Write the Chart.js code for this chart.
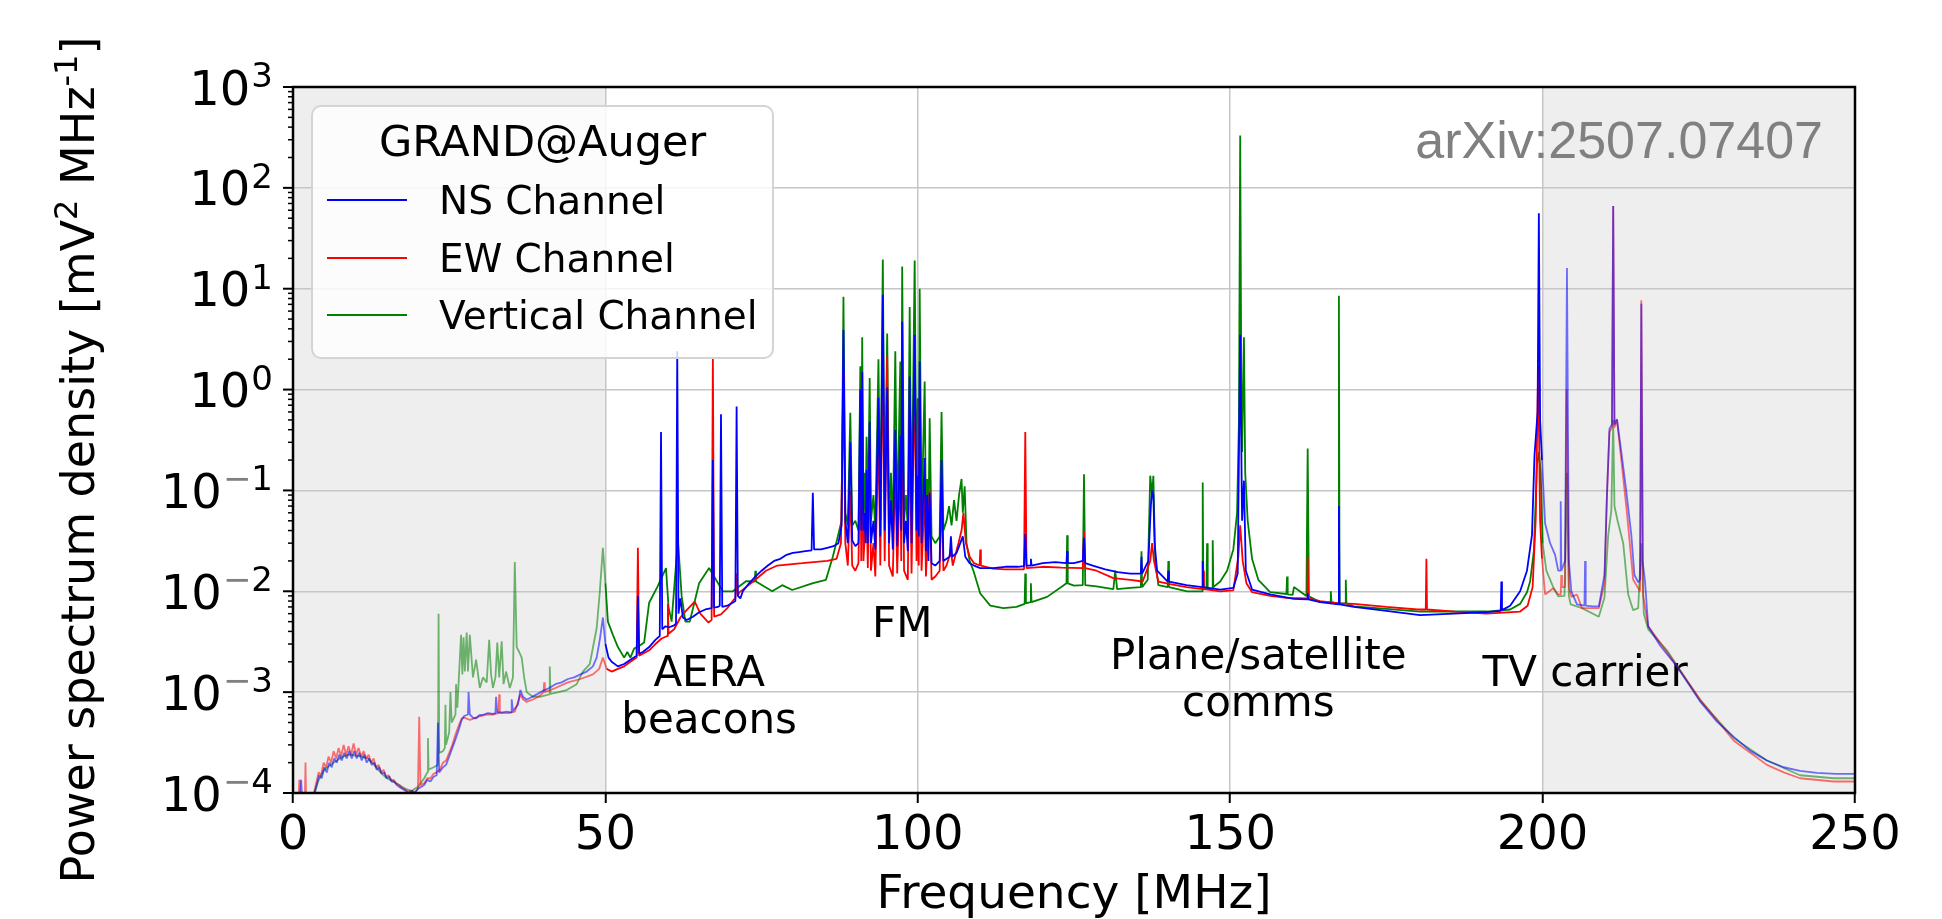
<!DOCTYPE html>
<html>
<head>
<meta charset="utf-8">
<script src="https://cdn.jsdelivr.net/npm/chart.js@4.4.1/dist/chart.umd.min.js"></script>
<style>
  html, body { margin:0; padding:0; background:#fff; }
  canvas { display:block; }
</style>
</head>
<body>
<canvas id="psd" width="1942" height="919"></canvas>
<script>
// ===== Data : [frequency MHz, PSD mV^2/MHz] =====
const NS_CHANNEL = [
  [0.2,8e-5],[1.1,8e-5],[1.3,1.35e-4],[1.5,8e-5],[2.8,8e-5],[3.4,1.0e-4],[3.8,1.2e-4],[4.2,1.5e-4],[4.6,1.4e-4],
  [5.0,1.8e-4],[5.4,1.6e-4],[5.8,2.0e-4],[6.2,1.8e-4],[6.6,2.2e-4],[7.0,2.0e-4],[7.4,2.4e-4],[7.8,2.1e-4],[8.2,2.5e-4],
  [8.6,2.2e-4],[9.0,2.6e-4],[9.4,2.2e-4],[9.8,2.6e-4],[10.2,2.2e-4],[10.6,2.5e-4],[11.0,2.1e-4],[11.4,2.4e-4],[11.8,2.0e-4],
  [12.2,2.2e-4],[12.6,1.9e-4],[13.0,2.0e-4],[13.4,1.7e-4],[13.8,1.8e-4],[14.2,1.55e-4],[14.6,1.6e-4],[15.0,1.4e-4],
  [15.4,1.45e-4],[15.8,1.3e-4],[16.2,1.3e-4],[16.6,1.2e-4],[17.0,1.15e-4],[17.5,1.1e-4],[18.0,1.05e-4],[18.5,1.0e-4],
  [19.0,1.05e-4],[19.5,1.0e-4],[20.0,1.1e-4],[20.5,1.15e-4],[21.0,1.2e-4],[21.5,1.35e-4],[22.0,1.3e-4],[22.5,1.45e-4],
  [23.0,1.5e-4],[23.2,5.0e-4],[23.4,1.6e-4],[24.0,1.8e-4],[24.5,1.9e-4],[25.0,2.3e-4],[25.5,2.8e-4],[26.0,3.4e-4],
  [26.5,4.2e-4],[27.0,5.3e-4],[27.4,5.8e-4],[28.0,6.0e-4],[28.1,1.0e-3],[28.3,6.0e-4],[28.8,5.6e-4],[29.3,5.5e-4],
  [29.8,5.9e-4],[30.5,6.0e-4],[31.2,6.2e-4],[32.0,6.1e-4],[32.4,6.2e-4],[32.5,9.0e-4],[32.7,6.3e-4],[33.5,6.3e-4],
  [34.2,6.4e-4],[34.9,6.3e-4],[35.0,8.5e-4],[35.2,6.5e-4],[36.0,7.5e-4],[36.4,1.05e-3],[36.8,9.0e-4],[37.4,8.4e-4],
  [38.0,8.8e-4],[39.0,9.5e-4],[40.0,1.03e-3],[41.0,1.1e-3],[42.0,1.2e-3],[43.0,1.25e-3],[44.0,1.35e-3],[45.0,1.4e-3],
  [46.0,1.5e-3],[47.0,1.6e-3],[48.0,1.8e-3],[48.6,2.2e-3],[49.1,3.3e-3],[49.6,5.5e-3],[50.0,3.0e-3],[50.5,2.2e-3],
  [51.0,2.0e-3],[52.0,1.8e-3],[53.0,1.9e-3],[54.0,2.1e-3],[55.0,2.3e-3],[55.2,9.0e-3],[55.4,2.4e-3],[56.0,2.5e-3],
  [57.0,2.8e-3],[58.0,3.3e-3],[58.7,3.6e-3],[58.9,0.38],[59.1,4.2e-3],[59.6,4.5e-3],[60.2,4.4e-3],[61.0,4.6e-3],
  [61.3,4.8e-3],[61.5,2.4],[61.7,6.0e-3],[62.0,8.5e-3],[62.4,5.5e-3],[63.0,5.2e-3],[64.0,5.6e-3],[65.0,6.2e-3],
  [66.0,6.6e-3],[67.0,6.8e-3],[67.2,0.2],[67.4,6.9e-3],[68.0,7.0e-3],[68.3,7.2e-3],[68.5,0.57],[68.7,7.0e-3],
  [69.5,7.2e-3],[70.5,7.8e-3],[70.8,8.0e-3],[71.0,0.68],[71.2,9.0e-3],[71.6,8.5e-3],[72.0,0.010],[73.0,0.012],
  [74.0,0.014],[75.0,0.016],[76.0,0.018],[77.0,0.020],[78.0,0.021],[79.0,0.023],[80.0,0.024],[81.0,0.0245],
  [82.0,0.025],[83.0,0.0255],[83.2,0.095],[83.4,0.026],[84.5,0.026],[85.5,0.027],[86.5,0.028],[87.3,0.030],
  [87.8,0.045],[88.1,3.9],[88.4,0.05],[88.8,0.03],[89.2,0.3],[89.5,0.032],[90.0,0.028],[90.5,0.03],[90.8,1.0],
  [90.95,0.04],[91.1,1.5],[91.3,0.04],[91.5,0.06],[91.65,0.03],[91.8,0.16],[92.0,0.03],[92.3,0.48],[92.5,0.03],
  [92.9,0.05],[93.2,0.026],[93.7,0.83],[94.0,0.035],[94.4,8.7],[94.7,0.04],[95.1,1.05],[95.4,0.03],[95.7,0.08],
  [96.0,0.026],[96.4,0.4],[96.7,0.028],[97.2,0.35],[97.35,0.04],[97.5,4.7],[97.8,0.03],[98.1,0.05],[98.4,0.025],
  [98.7,1.35],[99.0,0.03],[99.5,3.5],[99.8,0.04],[100.0,0.14],[100.15,0.035],[100.3,1.9],[100.6,0.03],[101.1,0.21],
  [101.3,0.025],[101.5,0.09],[101.7,0.02],[101.9,0.095],[102.2,0.019],[102.8,0.018],[103.5,0.02],[103.8,0.2],
  [104.1,0.02],[104.6,0.021],[105.1,0.022],[105.3,0.035],[105.5,0.022],[106.2,0.024],[106.8,0.030],[107.2,0.035],
  [107.6,0.022],[108.3,0.019],[109.0,0.018],[110.0,0.017],[112.0,0.017],[114.0,0.0175],[116.0,0.0175],[117.0,0.0178],
  [117.2,0.037],[117.4,0.018],[118.0,0.018],[118.1,0.021],[118.2,0.018],[120.0,0.019],[122.0,0.0195],[123.8,0.019],
  [123.9,0.025],[124.0,0.019],[125.0,0.019],[126.4,0.020],[126.6,0.034],[126.8,0.019],[128.0,0.018],[130.0,0.0165],
  [132.0,0.0155],[134.0,0.015],[135.7,0.015],[135.8,0.022],[135.9,0.015],[136.9,0.02],[137.3,0.07],[137.5,0.1],
  [137.7,0.09],[137.9,0.03],[138.3,0.016],[140.0,0.0125],[140.1,0.016],[140.2,0.0125],[143.0,0.0115],[145.5,0.011],
  [145.6,0.02],[145.7,0.011],[148.4,0.0104],[150.5,0.0108],[151.2,0.015],[151.6,3.5],[151.9,0.05],[152.2,0.125],
  [152.5,0.016],[153.5,0.0104],[156.4,0.0093],[160.2,0.0084],[162.3,0.0083],[162.4,0.0095],[162.5,0.0083],
  [164.4,0.0078],[167.3,0.0074],[167.4,0.07],[167.5,0.0074],[169.8,0.007],[175.0,0.0064],[180.4,0.0058],
  [185.8,0.006],[191.1,0.0062],[193.3,0.0064],[193.4,0.0125],[193.5,0.0065],[194.8,0.0072],[196.4,0.010],
  [197.5,0.016],[198.3,0.036],[198.7,0.22],[199.2,0.6],[199.4,56],[199.6,0.5],[199.9,0.2],[200.4,0.047],
  [201.2,0.030],[202.0,0.023],[202.5,0.016],[202.8,0.016],[202.9,0.078],[203.0,0.016],[203.6,0.020],[203.9,16],
  [204.2,0.020],[204.6,0.010],[205.5,0.0074],[206.7,0.0072],[206.8,0.020],[206.9,0.0072],[208.0,0.0071],
  [209.0,0.0071],[209.9,0.0145],[210.3,0.09],[210.7,0.41],[211.1,0.45],[211.3,66],[211.5,0.45],[211.9,0.51],
  [212.6,0.24],[213.4,0.098],[214.2,0.036],[214.7,0.0145],[215.3,0.0123],[215.6,0.013],[215.8,7.1],[216.0,0.02],
  [216.4,0.0123],[216.9,0.0045],[218.8,0.0029],[221.5,0.0018],[225.2,8.1e-4],[227.9,5.1e-4],[230.6,3.6e-4],
  [233.3,2.6e-4],[235.9,2.1e-4],[238.6,1.8e-4],[241.2,1.66e-4],[243.9,1.58e-4],[247.0,1.55e-4],[250.0,1.55e-4]
];

const EW_CHANNEL = [
  [0.3,8e-5],[0.9,8e-5],[1.0,1.35e-4],[1.1,8e-5],[1.9,8e-5],[2.0,2.0e-4],[2.1,8e-5],[3.2,9e-5],[3.7,1.25e-4],
  [4.1,1.6e-4],[4.5,1.5e-4],[4.9,2.0e-4],[5.3,1.8e-4],[5.7,2.3e-4],[6.1,2.0e-4],[6.5,2.6e-4],[6.9,2.2e-4],
  [7.3,2.8e-4],[7.7,2.3e-4],[8.1,3.0e-4],[8.5,2.4e-4],[8.9,2.9e-4],[9.3,2.4e-4],[9.7,3.1e-4],[10.1,2.4e-4],
  [10.5,2.8e-4],[10.9,2.3e-4],[11.3,2.6e-4],[11.7,2.2e-4],[12.1,2.4e-4],[12.5,2.0e-4],[12.9,2.2e-4],[13.3,1.8e-4],
  [13.7,1.9e-4],[14.1,1.6e-4],[14.5,1.7e-4],[14.9,1.45e-4],[15.3,1.5e-4],[15.7,1.35e-4],[16.1,1.35e-4],
  [16.5,1.25e-4],[17.0,1.2e-4],[17.5,1.12e-4],[18.0,1.08e-4],[18.5,1.03e-4],[19.0,1.05e-4],[19.5,1.02e-4],
  [20.0,1.1e-4],[20.2,5.7e-4],[20.4,1.2e-4],[21.0,1.25e-4],[21.5,1.4e-4],[22.0,1.4e-4],[22.5,1.55e-4],[23.0,1.6e-4],
  [23.5,1.7e-4],[24.0,2.0e-4],[24.5,2.1e-4],[25.0,2.5e-4],[25.5,3.0e-4],[26.0,3.8e-4],[26.5,4.6e-4],[27.0,5.5e-4],
  [27.4,5.6e-4],[28.0,5.4e-4],[28.3,5.3e-4],[29.0,5.5e-4],[30.0,5.8e-4],[31.0,6.0e-4],[32.0,6.0e-4],[32.9,6.2e-4],
  [33.0,9.5e-4],[33.1,6.2e-4],[34.5,6.2e-4],[35.5,6.4e-4],[36.4,9.5e-4],[36.8,8.5e-4],[37.4,8.0e-4],[38.5,8.5e-4],
  [39.5,9.2e-4],[40.1,1.0e-3],[40.2,1.25e-3],[40.3,1.0e-3],[42.0,1.1e-3],[44.0,1.25e-3],[46.0,1.35e-3],
  [48.0,1.5e-3],[49.0,1.7e-3],[49.6,2.2e-3],[50.2,1.7e-3],[51.0,1.6e-3],[52.0,1.7e-3],[53.0,1.8e-3],[54.0,2.0e-3],
  [55.0,2.2e-3],[55.2,0.027],[55.4,2.3e-3],[56.0,2.4e-3],[57.0,2.6e-3],[58.0,3.0e-3],[59.0,3.4e-3],[59.9,3.6e-3],
  [60.0,7.5e-3],[60.1,3.8e-3],[61.0,4.2e-3],[62.0,5.5e-3],[63.0,6.5e-3],[64.3,7.9e-3],[65.2,6.0e-3],[66.5,4.9e-3],
  [67.0,5.2e-3],[67.2,2.1],[67.4,5.6e-3],[68.5,5.9e-3],[69.5,6.8e-3],[70.5,8.2e-3],[70.8,8.5e-3],[71.0,0.015],
  [71.2,9.0e-3],[71.4,9.7e-3],[72.5,0.011],[74.0,0.013],[75.7,0.016],[77.5,0.018],[79.5,0.0185],[81.5,0.019],
  [83.3,0.0195],[85.5,0.020],[87.0,0.021],
  [87.7,0.03],[88.1,1.5],[88.4,0.03],[88.8,0.018],[89.2,0.1],[89.5,0.018],[90.0,0.016],[90.5,0.019],[90.8,0.3],
  [90.95,0.02],[91.1,0.6],[91.3,0.02],[91.8,0.08],[92.0,0.017],[92.3,0.3],[92.5,0.016],[92.9,0.03],[93.2,0.014],
  [93.7,0.4],[94.0,0.018],[94.4,3.0],[94.7,0.02],[95.1,2.2],[95.4,0.018],[96.0,0.014],[96.4,0.2],[96.7,0.015],
  [97.2,0.2],[97.35,0.02],[97.5,2.0],[97.8,0.016],[98.4,0.013],[98.7,0.6],[99.0,0.015],[99.5,1.5],[99.8,0.02],
  [100.0,0.06],[100.15,0.018],[100.3,0.8],[100.6,0.016],[101.1,0.1],[101.3,0.014],[101.9,0.1],[102.2,0.013],
  [102.8,0.014],[103.5,0.016],[103.8,0.1],[104.1,0.016],
  [104.6,0.018],[105.3,0.025],[105.6,0.018],[106.5,0.030],[107.0,0.04],[107.3,0.060],[107.7,0.030],[108.3,0.022],
  [109.0,0.019],[109.9,0.018],[110.0,0.026],[110.1,0.018],[112.0,0.0168],[114.0,0.0165],[117.0,0.0165],
  [117.2,0.38],[117.4,0.017],[120.0,0.0175],[123.0,0.0172],[126.4,0.017],[126.6,0.039],[126.8,0.017],
  [128.6,0.016],[131.3,0.0135],[134.0,0.013],[136.0,0.0125],[137.2,0.02],[137.5,0.03],[137.8,0.02],[138.5,0.0125],
  [140.4,0.0118],[143.0,0.011],[145.6,0.0105],[145.7,0.016],[145.8,0.0105],[148.4,0.010],[150.5,0.0102],
  [151.3,0.022],[151.6,0.045],[152.0,0.02],[152.6,0.012],[153.5,0.0098],[156.4,0.009],[159.0,0.0086],
  [162.3,0.0085],[162.4,0.022],[162.5,0.0085],[164.4,0.008],[167.4,0.0076],[169.8,0.0075],[175.0,0.007],
  [180.0,0.0066],[181.3,0.0066],[181.4,0.021],[181.5,0.0066],[186.0,0.0063],[191.0,0.006],[196.4,0.0063],
  [197.6,0.0072],[198.4,0.011],[198.9,0.052],[199.3,1.74],[199.6,0.05],[199.9,0.021],[200.4,0.0093],
  [201.7,0.0107],[202.5,0.0093],[202.9,0.0093],[203.0,0.0145],[203.1,0.011],[203.6,0.011],[203.85,1.0],
  [204.2,0.011],[204.6,0.0088],[205.5,0.0093],[206.3,0.0068],[209.0,0.0068],[209.9,0.012],[210.3,0.09],
  [210.7,0.38],[211.1,0.42],[211.3,66],[211.5,0.42],[211.9,0.50],[212.6,0.20],[213.5,0.06],[214.5,0.013],
  [215.6,0.010],[215.8,7.7],[216.1,0.009],[216.9,0.0045],[219.9,0.0025],[225.2,8.5e-4],[230.6,3.3e-4],
  [235.9,1.9e-4],[238.6,1.6e-4],[241.2,1.4e-4],[246.6,1.3e-4],[250.0,1.3e-4]
];

const V_CHANNEL = [
  [0.3,8e-5],[3.3,9e-5],[4.0,1.3e-4],[5.0,1.7e-4],[6.0,1.9e-4],[7.0,2.1e-4],[8.0,2.3e-4],[9.0,2.4e-4],[10.0,2.35e-4],
  [11.0,2.3e-4],[12.0,2.2e-4],[13.0,1.9e-4],[14.0,1.6e-4],[15.0,1.4e-4],[16.0,1.3e-4],[17.0,1.2e-4],[18.0,1.1e-4],
  [19.0,1.05e-4],[20.0,1.15e-4],[21.0,1.4e-4],[21.5,1.6e-4],[21.6,3.5e-4],[21.7,1.7e-4],[22.5,1.8e-4],[23.2,1.9e-4],
  [23.3,6.0e-3],[23.4,2.5e-4],[24.0,2.6e-4],[24.3,2.8e-4],[24.4,7.5e-4],[24.5,3.0e-4],[25.0,4.0e-4],[25.2,1.0e-3],
  [25.4,5.0e-4],[26.0,6.0e-4],[26.1,1.2e-3],[26.3,7.0e-4],[26.9,3.7e-3],[27.1,1.5e-3],[27.3,3.5e-3],[27.5,1.6e-3],
  [27.8,3.9e-3],[28.0,1.6e-3],[28.3,3.7e-3],[28.8,1.4e-3],[29.3,2.1e-3],[29.9,1.1e-3],[30.4,1.4e-3],[31.0,1.25e-3],
  [31.4,3.3e-3],[31.7,1.5e-3],[32.0,1.1e-3],[32.4,1.4e-3],[32.7,3.1e-3],[33.0,1.4e-3],[33.4,3.2e-3],[33.7,1.2e-3],
  [34.1,1.6e-3],[34.7,1.1e-3],[35.2,1.4e-3],[35.5,0.0195],[35.8,2.8e-3],[36.2,2.5e-3],[36.6,2.2e-3],[37.0,1.4e-3],
  [37.4,1.0e-3],[38.4,9.0e-4],[39.5,9.0e-4],[41.0,9.5e-4],[41.1,1.8e-3],[41.2,9.6e-4],[42.5,1.0e-3],[43.8,1.05e-3],
  [45.4,1.2e-3],[46.4,1.6e-3],[47.5,1.9e-3],[48.6,4.3e-3],[49.1,9.8e-3],[49.6,0.027],[50.0,0.012],[50.4,5.0e-3],
  [51.2,3.7e-3],[52.0,2.8e-3],[53.0,2.2e-3],[53.5,2.5e-3],[54.0,2.2e-3],[54.6,2.7e-3],[55.5,2.9e-3],[56.2,3.1e-3],
  [57.0,7.7e-3],[58.3,0.011],[59.7,0.017],[60.1,7.0e-3],[60.6,5.0e-3],[61.6,0.0325],[62.2,0.009],[62.8,5.0e-3],
  [63.5,5.0e-3],[65.0,0.012],[66.6,0.017],[67.7,0.013],[68.8,0.010],[70.4,0.010],[72.5,0.0126],[73.9,0.0125],
  [74.0,0.016],[74.1,0.0125],[76.7,0.010],[78.3,0.0115],[79.9,0.0103],[83.1,0.012],[85.3,0.013],[86.4,0.022],
  [87.2,0.035],[87.8,0.05],[88.1,8.3],[88.4,0.06],[88.8,0.045],[89.2,0.59],[89.5,0.045],[90.0,0.05],[90.5,0.04],
  [90.8,1.7],[90.95,0.05],[91.1,3.3],[91.3,0.06],[91.5,0.15],[91.65,0.05],[91.8,0.34],[92.0,0.05],[92.3,1.3],
  [92.5,0.05],[92.9,0.09],[93.2,0.04],[93.7,2.0],[94.0,0.05],[94.4,19.5],[94.7,0.06],[95.1,3.6],[95.4,0.05],
  [95.7,0.15],[96.0,0.04],[96.4,2.4],[96.7,0.045],[97.2,1.9],[97.35,0.06],[97.5,16.6],[97.8,0.05],[98.1,0.09],
  [98.4,0.04],[98.7,6.6],[99.0,0.05],[99.5,19],[99.8,0.06],[100.0,0.82],[100.15,0.06],[100.3,10],[100.6,0.05],
  [101.1,1.2],[101.3,0.05],[101.5,0.13],[101.7,0.04],[101.9,0.52],[102.2,0.035],[102.8,0.03],[103.5,0.035],
  [103.8,0.6],[104.1,0.04],[104.6,0.05],[105.0,0.07],[105.4,0.045],[105.8,0.08],[106.2,0.05],[106.6,0.09],
  [107.0,0.13],[107.2,0.06],[107.5,0.11],[107.8,0.03],[108.3,0.02],[108.9,0.016],[110.0,0.0095],[111.6,0.0072],
  [113.7,0.0068],[115.8,0.007],[117.1,0.0075],[117.2,0.015],[117.3,0.0076],[118.0,0.0078],[118.1,0.012],
  [118.2,0.0078],[120.7,0.0088],[123.3,0.0114],[123.8,0.012],[123.9,0.036],[124.0,0.012],[125.0,0.0114],
  [126.4,0.0115],[126.6,0.145],[126.8,0.0115],[128.6,0.0112],[131.3,0.0105],[131.6,0.016],[131.9,0.0105],
  [134.0,0.0108],[135.7,0.011],[135.8,0.025],[135.9,0.011],[136.8,0.013],[137.2,0.14],[137.5,0.09],[137.7,0.14],
  [138.0,0.02],[138.5,0.0115],[140.0,0.011],[140.1,0.02],[140.2,0.011],[143.1,0.010],[145.5,0.010],[145.6,0.12],
  [145.7,0.0105],[146.2,0.0105],[146.3,0.03],[146.4,0.0105],[147.1,0.0105],[147.2,0.032],[147.3,0.011],
  [148.4,0.0125],[149.5,0.016],[150.5,0.026],[151.1,0.06],[151.4,0.5],[151.6,330],[151.8,0.5],[151.9,0.24],
  [152.2,3.3],[152.4,0.15],[152.8,0.05],[153.5,0.021],[154.5,0.013],[156.4,0.0098],[159.0,0.0094],[159.1,0.014],
  [159.2,0.0093],[160.0,0.0092],[160.2,0.011],[162.2,0.009],[162.4,0.26],[162.6,0.0089],[164.4,0.0078],
  [166.0,0.0078],[166.1,0.010],[166.2,0.0078],[167.3,0.0076],[167.4,8.5],[167.5,0.0076],[168.4,0.0076],
  [168.5,0.013],[168.6,0.0076],[169.8,0.0071],[175.0,0.0067],[180.4,0.0063],[185.8,0.0063],[191.1,0.0063],
  [194.8,0.0066],[196.4,0.0075],[197.5,0.0098],[198.0,0.0125],[198.6,0.025],[199.1,0.18],[199.4,0.24],
  [199.7,0.15],[200.0,0.03],[200.6,0.016],[201.7,0.011],[202.5,0.0089],[203.5,0.009],[203.9,0.15],[204.2,0.009],
  [204.5,0.0074],[206.3,0.0068],[209.0,0.0056],[209.9,0.0087],[210.5,0.036],[211.0,0.063],[211.3,0.5],
  [211.5,0.07],[212.0,0.05],[212.9,0.03],[213.7,0.0093],[214.5,0.0065],[215.3,0.0068],[215.8,0.03],[216.2,0.006],
  [216.9,0.0042],[219.9,0.0026],[225.2,8.3e-4],[230.6,3.5e-4],[235.9,2.1e-4],[241.2,1.5e-4],[246.6,1.4e-4],
  [250.0,1.4e-4]
];

const SERIES_LABELS = ['NS Channel', 'EW Channel', 'Vertical Channel'];
const SERIES_COLORS = ['#0000ff', '#ff0000', '#008000'];
const SERIES_FADED  = ['rgba(0,0,255,0.55)', 'rgba(255,0,0,0.55)', 'rgba(0,128,0,0.55)'];
const SHADED_BANDS = [[0, 50], [200, 250]];
const Y_DECADES = [-4, -3, -2, -1, 0, 1, 2, 3];
const ANNOTATIONS = [
  { lines:['AERA', 'beacons'], f:66.6, v:1.16e-3 },
  { lines:['FM'], f:97.5, v:3.5e-3 },
  { lines:['Plane/satellite', 'comms'], f:154.5, v:1.7e-3 },
  { lines:['TV carrier'], f:206.8, v:1.16e-3 }
];

const FONT = '"DejaVu Sans", sans-serif';
const GRID = '#c6c6c6';

const inBand = (x) => SHADED_BANDS.some(([a, b]) => x > a && x < b);
const isDecade = (v) => Math.abs(Math.log10(v) - Math.round(Math.log10(v))) < 1e-6;

// ===== Decorations =====
const decor = {
  id:'decor',
  beforeDraw(chart){
    const { ctx, chartArea:a, scales:{x} } = chart;
    ctx.save();
    ctx.fillStyle = '#eeeeee';
    SHADED_BANDS.forEach(([lo, hi]) => {
      const x0 = x.getPixelForValue(lo), x1 = x.getPixelForValue(hi);
      ctx.fillRect(x0, a.top, x1 - x0, a.bottom - a.top);
    });
    ctx.restore();
  },
  beforeDatasetsDraw(chart){
    const { ctx, scales:{x, y} } = chart;
    ctx.save();
    ctx.fillStyle = '#000';
    ctx.font = `42px ${FONT}`;
    ctx.textAlign = 'center';
    ctx.textBaseline = 'alphabetic';
    ANNOTATIONS.forEach(an => {
      const px = x.getPixelForValue(an.f), py = y.getPixelForValue(an.v);
      an.lines.forEach((t, i) => ctx.fillText(t, px, py + i * 47));
    });
    ctx.restore();
  },
  afterDraw(chart){
    const { ctx, chartArea:a, scales:{y} } = chart;
    ctx.save();
    // frame
    ctx.strokeStyle = '#000';
    ctx.lineWidth = 2.5;
    ctx.strokeRect(a.left, a.top, a.right - a.left, a.bottom - a.top);

    // y ticks (major + log minor) and labels 10^k
    ctx.lineWidth = 2;
    Y_DECADES.forEach(k => {
      const py = y.getPixelForValue(Math.pow(10, k));
      ctx.beginPath(); ctx.moveTo(a.left, py); ctx.lineTo(a.left - 10, py); ctx.stroke();
      if (k < 3) {
        ctx.lineWidth = 1.5;
        for (let m = 2; m <= 9; m++) {
          const my = y.getPixelForValue(m * Math.pow(10, k));
          ctx.beginPath(); ctx.moveTo(a.left, my); ctx.lineTo(a.left - 5, my); ctx.stroke();
        }
        ctx.lineWidth = 2;
      }
      const right = a.left - 20;
      ctx.textBaseline = 'alphabetic';
      ctx.textAlign = 'left';
      ctx.font = `34px ${FONT}`;
      const digit = String(Math.abs(k));
      const dW = ctx.measureText(digit).width;
      const mW = k < 0 ? ctx.measureText('\u2212').width : 0;
      const expLeft = right - dW - mW;
      if (k < 0) { ctx.fillStyle = '#808080'; ctx.fillText('\u2212', expLeft, py); }
      ctx.fillStyle = '#000';
      ctx.fillText(digit, expLeft + mW, py);
      ctx.font = `48px ${FONT}`;
      ctx.textAlign = 'right';
      ctx.fillText('10', expLeft - 1, py + 17.5);
    });

    // y title with superscripts
    ctx.save();
    ctx.translate(94, 460);
    ctx.rotate(-Math.PI / 2);
    const parts = [
      ['Power spectrum density [mV', 46, 0], ['2', 32, -17], [' MHz', 46, 0], ['-1', 32, -17], [']', 46, 0]
    ];
    let total = 0;
    parts.forEach(p => { ctx.font = `${p[1]}px ${FONT}`; total += ctx.measureText(p[0]).width; });
    let cx = -total / 2;
    ctx.textAlign = 'left';
    ctx.fillStyle = '#000';
    parts.forEach(p => { ctx.font = `${p[1]}px ${FONT}`; ctx.fillText(p[0], cx, p[2]); cx += ctx.measureText(p[0]).width; });
    ctx.restore();

    // x title
    ctx.font = `47px ${FONT}`;
    ctx.textAlign = 'center';
    ctx.fillStyle = '#000';
    ctx.fillText('Frequency [MHz]', (a.left + a.right) / 2, 908);

    // arXiv tag
    ctx.font = '52px "Liberation Sans", Arial, sans-serif';
    ctx.textAlign = 'right';
    ctx.fillStyle = '#808080';
    ctx.fillText('arXiv:2507.07407', 1823, 158);

    // legend
    const lx = 312, ly = 106, lw = 461, lh = 252, r = 9;
    ctx.beginPath();
    ctx.roundRect(lx, ly, lw, lh, r);
    ctx.fillStyle = 'rgba(255,255,255,0.8)';
    ctx.fill();
    ctx.strokeStyle = '#d4d4d4';
    ctx.lineWidth = 2;
    ctx.stroke();
    ctx.fillStyle = '#000';
    ctx.font = `43px ${FONT}`;
    ctx.textAlign = 'center';
    ctx.fillText('GRAND@Auger', lx + lw / 2, 156);
    ctx.font = `39px ${FONT}`;
    ctx.textAlign = 'left';
    [200, 258, 315].forEach((yy, i) => {
      ctx.strokeStyle = SERIES_COLORS[i];
      ctx.lineWidth = 2;
      ctx.beginPath(); ctx.moveTo(327, yy); ctx.lineTo(407, yy); ctx.stroke();
      ctx.fillStyle = '#000';
      ctx.fillText(SERIES_LABELS[i], 439, yy + 14);
    });
    ctx.restore();
  }
};

// ===== Chart =====
const toPts = (arr) => arr.map(([x, y]) => ({ x, y }));
const makeSet = (arr, i) => ({
  label: SERIES_LABELS[i],
  data: toPts(arr),
  borderColor: SERIES_COLORS[i],
  borderWidth: 1.8,
  borderJoinStyle: 'bevel',
  pointRadius: 0,
  tension: 0,
  clip: 0,
  segment: {
    borderColor: (c) => inBand((c.p0.parsed.x + c.p1.parsed.x) / 2) ? SERIES_FADED[i] : SERIES_COLORS[i]
  }
});

new Chart(document.getElementById('psd').getContext('2d'), {
  type: 'line',
  data: { datasets: [makeSet(NS_CHANNEL, 0), makeSet(EW_CHANNEL, 1), makeSet(V_CHANNEL, 2)] },
  options: {
    responsive: false, animation: false, devicePixelRatio: 1, parsing: false, normalized: true,
    layout: { padding: { left: 293, right: 87, top: 87, bottom: 0 } },
    plugins: { legend: { display: false }, tooltip: { enabled: false } },
    scales: {
      x: {
        type: 'linear', min: 0, max: 250,
        afterFit: (s) => { s.height = 126; },
        ticks: { stepSize: 50, color: '#000', font: { family: 'DejaVu Sans', size: 48 }, padding: 5, maxRotation: 0, autoSkip: false },
        grid: { color: GRID, lineWidth: 1.5, tickLength: 10, tickColor: '#000', tickWidth: 2 },
        border: { display: false }
      },
      y: {
        type: 'logarithmic', min: 1e-4, max: 1e3,
        afterFit: (s) => { s.width = 0; },
        ticks: { display: false },
        grid: { drawTicks: false, lineWidth: 1.5, color: (c) => (c.tick && isDecade(c.tick.value)) ? GRID : 'rgba(0,0,0,0)' },
        border: { display: false }
      }
    }
  },
  plugins: [decor]
});
</script>
</body>
</html>
